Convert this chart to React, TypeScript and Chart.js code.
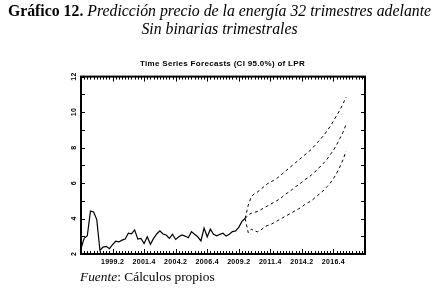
import React, { useEffect, useRef } from "react";
import { Chart, registerables } from "chart.js";

Chart.register(...registerables);

// ---- data ----
const firstQuarter = "1996.4";
const axisEndQuarter = "2019.2";
const historyValues = [
  2.30, 2.88, 3.03, 4.42, 4.37, 3.94, 2.20, 2.39, 2.43, 2.30,
  2.53, 2.72, 2.68, 2.78, 2.84, 3.17, 3.13, 3.36, 2.84, 2.88,
  2.59, 2.97, 2.55, 2.88, 3.13, 3.30, 3.13, 3.07, 2.88, 3.11,
  2.82, 2.97, 3.07, 3.01, 2.92, 3.26, 3.11, 2.97, 2.74, 3.46,
  2.97, 3.40, 3.11, 3.03, 3.11, 3.17, 3.01, 3.11, 3.26, 3.30,
  3.50, 3.84, 4.00,
];
const forecastMid = [
  4.2, 4.3, 4.35, 4.4, 4.5, 4.6, 4.7, 4.8, 4.9, 5.0,
  5.1, 5.25, 5.4, 5.5, 5.65, 5.8, 5.9, 6.05, 6.2, 6.3,
  6.45, 6.6, 6.8, 6.95, 7.15, 7.35, 7.6, 7.85, 8.15, 8.5,
  8.85, 9.3,
];
const forecastUpper = [
  4.75, 5.25, 5.4, 5.5, 5.65, 5.8, 5.95, 6.05, 6.15, 6.25,
  6.4, 6.55, 6.7, 6.85, 7.0, 7.15, 7.3, 7.45, 7.6, 7.75,
  7.9, 8.1, 8.3, 8.5, 8.7, 8.95, 9.2, 9.5, 9.8, 10.1,
  10.45, 10.85,
];
const forecastLower = [
  3.2, 3.4, 3.3, 3.25, 3.35, 3.5, 3.6, 3.65, 3.75, 3.85,
  3.95, 4.05, 4.15, 4.25, 4.35, 4.45, 4.55, 4.65, 4.8, 4.9,
  5.0, 5.15, 5.3, 5.45, 5.6, 5.8, 6.0, 6.25, 6.55, 6.9,
  7.3, 7.8,
];
const xTickLabels = ["1999.2", "2001.4", "2004.2", "2006.4", "2009.2", "2011.4", "2014.2", "2016.4"];
const yMin = 2;
const yMax = 12;
const yStep = 2;

const chartTitle = "Time Series Forecasts (CI 95.0%) of LPR";

// ---- helpers ----
function quarterToNum(q: string): number {
  const [y, p] = q.split(".");
  return Number(y) + (Number(p) - 1) / 4;
}
function numToQuarter(t: number): string {
  const y = Math.floor(t + 1e-6);
  const q = Math.round((t - y) * 4) + 1;
  return `${y}.${q}`;
}

const startT = quarterToNum(firstQuarter);
const histPoints = historyValues.map((v, i) => ({ x: startT + i * 0.25, y: v }));
const lastHist = histPoints[histPoints.length - 1];
const fcPoints = (arr: number[]) => [
  { x: lastHist.x, y: lastHist.y },
  ...arr.map((v, k) => ({ x: lastHist.x + (k + 1) * 0.25, y: v })),
];

const framePlugin = {
  id: "frame",
  afterDatasetsDraw(chart: any) {
    const { ctx, chartArea: a, scales } = chart;
    const x = scales.x;
    const y = scales.y;
    ctx.save();
    ctx.strokeStyle = "#000";
    ctx.lineWidth = 1;
    ctx.beginPath();
    for (let t = x.min; t <= x.max + 1e-6; t += 0.25) {
      const px = Math.round(x.getPixelForValue(t)) + 0.5;
      ctx.moveTo(px, a.top);
      ctx.lineTo(px, a.top + 3);
      ctx.moveTo(px, a.bottom);
      ctx.lineTo(px, a.bottom - 3);
    }
    x.ticks.forEach((tk: any) => {
      const px = Math.round(x.getPixelForValue(tk.value)) + 0.5;
      ctx.moveTo(px, a.top);
      ctx.lineTo(px, a.top + 5);
      ctx.moveTo(px, a.bottom);
      ctx.lineTo(px, a.bottom - 5);
    });
    for (let v = y.min; v <= y.max + 1e-6; v += 1) {
      const py = Math.round(y.getPixelForValue(v)) + 0.5;
      ctx.moveTo(a.left, py);
      ctx.lineTo(a.left + 4, py);
      ctx.moveTo(a.right, py);
      ctx.lineTo(a.right - 4, py);
    }
    ctx.stroke();
    ctx.lineWidth = 2;
    ctx.strokeRect(a.left, a.top, a.right - a.left, a.bottom - a.top);
    ctx.restore();
  },
};

const spacingPlugin = {
  id: "spacing",
  beforeDraw(chart: any) {
    (chart.ctx as any).letterSpacing = "0.3px";
  },
  afterDraw(chart: any) {
    (chart.ctx as any).letterSpacing = "0px";
  },
};

export default function App() {
  const canvasRef = useRef<HTMLCanvasElement | null>(null);

  useEffect(() => {
    const canvas = canvasRef.current;
    if (!canvas) return;
    const tickFont = { family: '"Liberation Sans", Arial, sans-serif', size: 7, weight: "bold" as const };
    const chart = new Chart(canvas, {
      type: "line",
      data: {
        datasets: [
          {
            label: "LPR",
            data: histPoints,
            borderColor: "#000",
            borderWidth: 1.2,
            pointRadius: 0,
            fill: false,
            tension: 0,
          },
          {
            label: "Upper",
            data: fcPoints(forecastUpper),
            borderColor: "#000",
            borderWidth: 1,
            borderDash: [3, 3],
            pointRadius: 0,
            fill: false,
            tension: 0,
          },
          {
            label: "Forecast",
            data: fcPoints(forecastMid),
            borderColor: "#000",
            borderWidth: 1,
            borderDash: [3, 3],
            pointRadius: 0,
            fill: false,
            tension: 0,
          },
          {
            label: "Lower",
            data: fcPoints(forecastLower),
            borderColor: "#000",
            borderWidth: 1,
            borderDash: [3, 3],
            pointRadius: 0,
            fill: false,
            tension: 0,
          },
        ],
      },
      options: {
        responsive: false,
        animation: false,
        devicePixelRatio: 1,
        layout: { padding: { top: 59, right: 0, left: 6, bottom: 0 } },
        plugins: {
          legend: { display: false },
          tooltip: { enabled: false },
          title: {
            display: true,
            text: chartTitle,
            color: "#000",
            font: { family: '"Liberation Sans", Arial, sans-serif', size: 8, weight: "bold" },
            padding: { top: 0, bottom: 8 },
          },
        },
        scales: {
          x: {
            type: "linear",
            min: startT,
            max: quarterToNum(axisEndQuarter),
            grid: { display: false, drawTicks: false },
            border: { display: false },
            afterBuildTicks: (scale: any) => {
              scale.ticks = xTickLabels.map((l) => ({ value: quarterToNum(l) }));
            },
            afterFit: (scale: any) => {
              scale.height = 35;
            },
            ticks: {
              autoSkip: false,
              maxRotation: 0,
              minRotation: 0,
              padding: 4,
              color: "#000",
              font: tickFont,
              callback: (v: any) => numToQuarter(Number(v)),
            },
          },
          y: {
            type: "linear",
            min: yMin,
            max: yMax,
            grid: { display: false, drawTicks: false },
            border: { display: false },
            afterFit: (scale: any) => {
              scale.width = 75;
            },
            ticks: {
              stepSize: yStep,
              minRotation: 90,
              maxRotation: 90,
              crossAlign: "center",
              padding: 3,
              color: "#000",
              font: tickFont,
            },
          },
          yRight: {
            type: "linear",
            position: "right",
            min: yMin,
            max: yMax,
            grid: { display: false, drawTicks: false },
            border: { display: false },
            ticks: { display: false },
            afterFit: (scale: any) => {
              scale.width = 74;
            },
          },
        },
      },
      plugins: [framePlugin, spacingPlugin],
    });
    return () => chart.destroy();
  }, []);

  const serif = '"Liberation Serif", "Times New Roman", serif';
  return (
    <div style={{ position: "absolute", left: 0, top: 0, width: 439, height: 289, background: "#fff" }}>
      <canvas ref={canvasRef} width={439} height={289} style={{ position: "absolute", left: 0, top: 0 }} />
      <div
        style={{
          position: "absolute",
          left: 0,
          top: 2,
          width: 439,
          textAlign: "center",
          fontFamily: serif,
          fontSize: 15.8,
          lineHeight: "18px",
          color: "#000",
          whiteSpace: "nowrap",
        }}
      >
        <b>Gráfico 12.</b> <i>Predicción precio de la energía 32 trimestres adelante</i>
        <br />
        <i>Sin binarias trimestrales</i>
      </div>
      <div
        style={{
          position: "absolute",
          left: 80,
          top: 269,
          fontFamily: serif,
          fontSize: 13.4,
          lineHeight: "16px",
          color: "#000",
          whiteSpace: "nowrap",
        }}
      >
        <i>Fuente</i>: Cálculos propios
      </div>
    </div>
  );
}
